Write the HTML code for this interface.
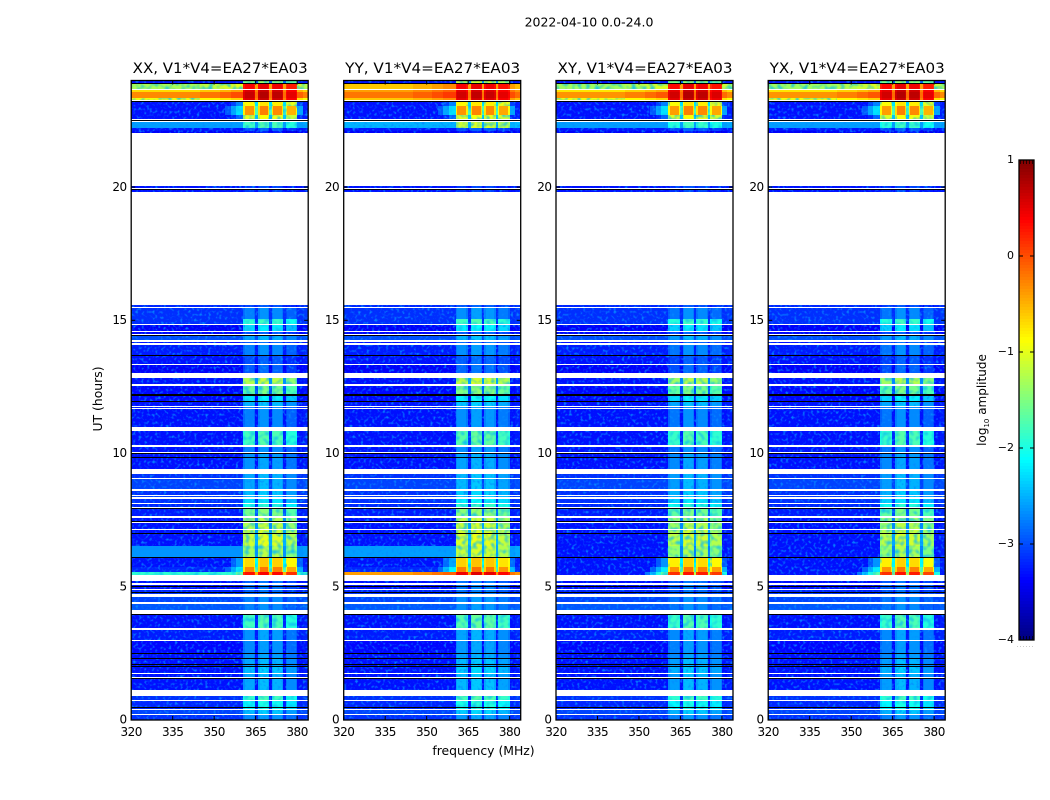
<!DOCTYPE html>
<html lang="en">
<head>
<meta charset="utf-8">
<title>2022-04-10 0.0-24.0</title>
<style>
html,body{margin:0;padding:0;background:#fff;width:1050px;height:800px;overflow:hidden}
svg{display:block}
text{font-family:"DejaVu Sans","Liberation Sans",sans-serif;fill:#000}
</style>
</head>
<body>
<svg id="chart" xmlns="http://www.w3.org/2000/svg" width="1050" height="800" viewBox="0 0 1050 800">
  <defs>
    <filter id="grain" filterUnits="userSpaceOnUse" x="120" y="70" width="840" height="660" color-interpolation-filters="sRGB">
      <feTurbulence type="fractalNoise" baseFrequency="0.36" numOctaves="1" seed="7" result="n"/>
      <feColorMatrix in="n" type="matrix" values="0 0 0 0 0.02  0 0 0 0 0.55  0 0 0 0 1  2.6 0 0 0 -1.15" result="speck"/>
      <feComponentTransfer in="speck" result="hard"><feFuncA type="discrete" tableValues="0 0.2 0.55 0.85"/></feComponentTransfer>
      <feComposite in="hard" in2="SourceAlpha" operator="in" result="clipped"/>
      <feMerge><feMergeNode in="SourceGraphic"/><feMergeNode in="clipped"/></feMerge>
    </filter>
    <filter id="mottle" filterUnits="userSpaceOnUse" x="120" y="70" width="840" height="660" color-interpolation-filters="sRGB">
      <feTurbulence type="fractalNoise" baseFrequency="0.22" numOctaves="1" seed="11" result="n"/>
      <feColorMatrix in="n" type="matrix" values="0 0 0 0 0.05  0 0 0 0 0.75  0 0 0 0 0.95  2.4 0 0 0 -1.05" result="speck"/>
      <feComposite in="speck" in2="SourceAlpha" operator="in" result="clipped"/>
      <feMerge><feMergeNode in="SourceGraphic"/><feMergeNode in="clipped"/></feMerge>
    </filter>
  </defs>
  <rect x="0" y="0" width="1050" height="800" fill="#fff"/>
  <text x="589" y="26.5" font-size="12.5" text-anchor="middle">2022-04-10 0.0-24.0</text>
  <text x="483.5" y="755" font-size="12.4" text-anchor="middle">frequency (MHz)</text>
  <text x="102" y="399" font-size="12.4" text-anchor="middle" transform="rotate(-90 102 399)">UT (hours)</text>
  <text x="986" y="400" font-size="12" text-anchor="middle" transform="rotate(-90 986 400)">log<tspan font-size="7" dy="3">10</tspan><tspan dy="-3"> amplitude</tspan></text>
  <g id="panels"></g>
  <g id="colorbar"></g>
</svg>
<script>
// ---- chart data (UT hours, log10 amplitude) ----
const polarizations = ["XX", "YY", "XY", "YX"];
const baselineLabel = "V1*V4=EA27*EA03";
const frequencyTicks = [320, 335, 350, 365, 380];
const hourTicks = [0, 5, 10, 15, 20];
const colorTicks = [1, 0, -1, -2, -3, -4];
const spwLow = [360.6, 365.9, 370.8, 375.8];
const spwHigh = [364.9, 370.0, 375.0, 380.0];

const scanStart = [0,0.225,0.41,0.75,1.14,1.61,1.78,2.04,2.10,2.33,2.53,3.02,3.40,3.47,4.13,4.43,4.73,4.80,4.91,5.16,5.44,5.55,5.74,6.11,6.53,7.01,7.16,7.46,7.65,7.99,8.16,8.36,8.44,8.66,9.09,9.43,9.88,10.07,10.31,10.99,11.70,11.79,11.96,12.24,12.60,13.01,13.35,13.69,14.14,14.25,14.47,14.60,14.87,15.05,15.51,19.82,19.95,22.03,22.10,22.20,22.55,22.70,23.05,23.25,23.36,23.55,23.68,23.85,23.92];
const scanEnd = [0.19,0.375,0.71,0.90,1.59,1.74,2.00,2.08,2.31,2.49,2.98,3.36,3.43,3.96,4.35,4.61,4.78,4.87,5.08,5.22,5.55,5.74,6.08,6.53,7.00,7.13,7.40,7.58,7.95,8.12,8.29,8.40,8.59,9.06,9.22,9.84,9.99,10.26,10.84,11.66,11.74,11.94,12.19,12.53,12.83,13.31,13.67,14.06,14.18,14.42,14.57,14.83,15.05,15.45,15.56,19.89,20.03,22.09,22.20,22.45,22.70,23.05,23.20,23.36,23.55,23.64,23.85,23.92,24];

const backgroundXX = [-3.15,-3.05,-3.2,-3.15,-3.3,-3.3,-3.3,-3.3,-3.3,-3.3,-3.35,-3.25,-3.3,-3.3,-2.95,-3.05,-3.15,-3.2,-3.3,-3.3,-1.9,-3.2,-3.3,-2.65,-3.3,-3.3,-3.3,-3.3,-3.25,-3.2,-3.15,-3.1,-3.15,-3.05,-3.15,-3.3,-3.3,-3.3,-3.3,-3.3,-3.3,-3.3,-3.35,-3.35,-3.3,-3.4,-3.3,-3.25,-3.3,-3.0,-3.4,-3.4,-3.15,-3.15,-3.2,-3.3,-3.3,-3.4,-3.3,-2.6,-3.3,-3.3,-3.3,-0.95,-0.3,-0.7,-1.3,-1.9,-3.3];
const backgroundYY = [-3.15,-3.05,-3.2,-3.15,-3.3,-3.3,-3.3,-3.3,-3.3,-3.3,-3.35,-3.25,-3.3,-3.3,-2.95,-3.05,-3.15,-3.2,-3.3,-3.3,-0.4,-3.2,-3.3,-2.6,-3.3,-3.3,-3.3,-3.3,-3.25,-3.2,-3.15,-3.1,-3.15,-3.05,-3.15,-3.3,-3.3,-3.3,-3.3,-3.3,-3.3,-3.3,-3.35,-3.35,-3.3,-3.4,-3.3,-3.25,-3.3,-3.0,-3.4,-3.4,-3.15,-3.15,-3.2,-3.3,-3.3,-3.4,-3.3,-2.5,-3.3,-3.3,-3.3,-0.6,-0.2,-0.4,-0.6,-1.2,-3.3];
const backgroundXY = [-3.15,-3.05,-3.2,-3.15,-3.3,-3.3,-3.3,-3.3,-3.3,-3.3,-3.35,-3.25,-3.3,-3.3,-2.95,-3.05,-3.15,-3.2,-3.3,-3.3,-3.3,-3.3,-3.3,-3.3,-3.3,-3.3,-3.3,-3.3,-3.25,-3.2,-3.15,-3.1,-3.15,-3.05,-3.15,-3.3,-3.3,-3.3,-3.3,-3.3,-3.3,-3.3,-3.35,-3.35,-3.3,-3.4,-3.3,-3.25,-3.3,-3.0,-3.4,-3.4,-3.15,-3.15,-3.2,-3.3,-3.3,-3.4,-3.3,-2.6,-3.3,-3.3,-3.3,-0.95,-0.35,-0.75,-1.35,-1.9,-3.3];
const backgroundYX = [-3.15,-3.05,-3.2,-3.15,-3.3,-3.3,-3.3,-3.3,-3.3,-3.3,-3.35,-3.25,-3.3,-3.3,-2.95,-3.05,-3.15,-3.2,-3.3,-3.3,-3.3,-3.3,-3.3,-3.3,-3.3,-3.3,-3.3,-3.3,-3.25,-3.2,-3.15,-3.1,-3.15,-3.05,-3.15,-3.3,-3.3,-3.3,-3.3,-3.3,-3.3,-3.3,-3.35,-3.35,-3.3,-3.4,-3.3,-3.25,-3.3,-3.0,-3.4,-3.4,-3.15,-3.15,-3.2,-3.3,-3.3,-3.4,-3.3,-2.6,-3.3,-3.3,-3.3,-0.95,-0.35,-0.75,-1.35,-1.9,-3.3];

const signalXX = [-2.7,-2.45,-2.1,-1.85,-2.55,-2.55,-2.45,-2.55,-2.55,-2.65,-2.7,-2.65,-2.65,-1.8,-2.75,-2.75,-2.9,-2.9,-2.85,-2.9,0.3,-0.3,-0.7,-1.3,-1.1,-1.15,-1.25,-1.3,-1.55,-2.0,-2.3,-2.45,-2.45,-2.55,-2.55,-2.65,-2.65,-2.75,-1.8,-2.75,-2.75,-2.5,-2.25,-1.6,-1.25,-2.95,-3.0,-2.75,-2.95,-2.55,-3.0,-2.3,-1.9,-2.75,-3.05,-3.1,-3.1,-3.3,-3.0,-1.8,-1.0,-0.35,-0.85,0.55,0.65,0.55,0.4,0.3,-1.5];
const signalYY = [-2.62,-2.37,-2.0,-1.75,-2.47,-2.47,-2.37,-2.47,-2.47,-2.57,-2.62,-2.57,-2.57,-1.7,-2.67,-2.67,-2.82,-2.82,-2.77,-2.82,0.45,-0.25,-0.65,-1.15,-1.05,-1.1,-1.15,-1.2,-1.45,-1.9,-2.2,-2.37,-2.37,-2.47,-2.47,-2.57,-2.57,-2.67,-1.7,-2.67,-2.67,-2.42,-2.15,-1.5,-1.15,-2.87,-2.92,-2.67,-2.87,-2.47,-2.92,-2.2,-1.8,-2.67,-2.97,-3.1,-3.1,-3.3,-3.0,-1.1,-1.0,-0.35,-0.85,0.5,0.6,0.5,0.4,0.3,-1.2];
const signalXY = [-2.7,-2.45,-2.1,-1.85,-2.55,-2.55,-2.45,-2.55,-2.55,-2.65,-2.7,-2.65,-2.65,-1.8,-2.75,-2.75,-2.9,-2.9,-2.85,-2.9,0.2,-0.3,-0.75,-1.35,-1.15,-1.2,-1.3,-1.35,-1.6,-2.0,-2.3,-2.45,-2.45,-2.55,-2.55,-2.65,-2.65,-2.75,-1.8,-2.75,-2.75,-2.5,-2.25,-1.6,-1.3,-2.95,-3.0,-2.75,-2.95,-2.55,-3.0,-2.3,-1.9,-2.75,-3.05,-3.1,-3.1,-3.3,-3.0,-1.9,-1.0,-0.35,-0.85,0.55,0.65,0.55,0.4,0.3,-1.5];
const signalYX = [-2.7,-2.45,-2.1,-1.85,-2.55,-2.55,-2.45,-2.55,-2.55,-2.65,-2.7,-2.65,-2.65,-1.8,-2.75,-2.75,-2.9,-2.9,-2.85,-2.9,0.2,-0.3,-0.75,-1.35,-1.15,-1.2,-1.3,-1.35,-1.6,-2.0,-2.3,-2.45,-2.45,-2.55,-2.55,-2.65,-2.65,-2.75,-1.8,-2.75,-2.75,-2.5,-2.25,-1.6,-1.3,-2.95,-3.0,-2.75,-2.95,-2.55,-3.0,-2.3,-1.9,-2.75,-3.05,-3.1,-3.1,-3.3,-3.0,-1.9,-1.0,-0.35,-0.85,0.55,0.65,0.55,0.4,0.3,-1.5];

const spwOffsetXX = [0.0, 0.1, 0.05, -0.15];
const spwOffsetYY = [0.0, 0.08, 0.05, -0.1];
const spwOffsetXY = [-0.05, 0.1, 0.05, -0.1];
const spwOffsetYX = [-0.05, 0.1, 0.05, -0.15];

const flaggedHours = [0.5,1.59,2.03,2.1,2.33,2.51,3.96,4.8,5.03,6.11,7.01,7.46,7.97,9.86,10.03,11.96,12.2,12.25,13.69,14.45,19.91,22.5,23.23,23.9];

// ---- layout and axis functions ----
const panelLeft = [131.2, 343.7, 556, 768.2];
const panelWidth = 177;
const plotTop = 80.5;
const plotBottom = 720;
const svgNS = "http://www.w3.org/2000/svg";
const panelsRoot = document.getElementById("panels");
const colorbarRoot = document.getElementById("colorbar");

function xScale(freq, left) { return left + (freq - 320) / 64 * panelWidth; }
function yScale(hour) { return plotBottom - hour / 24 * (plotBottom - plotTop); }
function colorScale(level) { return plotColorTop + (1 - level) / 5 * (plotColorBottom - plotColorTop); }
const plotColorTop = 160, plotColorBottom = 640, colorLeft = 1019, colorRight = 1034;

function jet(level) {
  const v = Math.max(0, Math.min(1, (level + 4) / 5));
  const ramp = function (c) { return Math.round(255 * Math.max(0, Math.min(1, 1.5 - Math.abs(4 * v - c)))); };
  return "rgb(" + ramp(3) + "," + ramp(2) + "," + ramp(1) + ")";
}
function setGeom(el, attrs) { for (const k in attrs) el.setAttribute(k, attrs[k]); return el; }
function makeEl(tag, parent) { const el = document.createElementNS(svgNS, tag); parent.appendChild(el); return el; }

function spwOffsetFor(pol) { return {XX: spwOffsetXX, YY: spwOffsetYY, XY: spwOffsetXY, YX: spwOffsetYX}[pol]; }
function backgroundFor(pol) { return {XX: backgroundXX, YY: backgroundYY, XY: backgroundXY, YX: backgroundYX}[pol]; }
function signalFor(pol) { return {XX: signalXX, YY: signalYY, XY: signalXY, YX: signalYX}[pol]; }

function addCell(groups, left, f0, f1, s, level) {
  const x0 = Math.round(xScale(f0, left));
  const x1 = Math.round(xScale(f1, left));
  const y0 = Math.round(yScale(scanEnd[s]));
  const y1 = Math.round(yScale(scanStart[s]));
  if (x1 <= x0 || y1 <= y0) return;
  const target = level < -2.3 ? groups.grainy : (level < -0.9 ? groups.mottled : groups.clean);
  const cell = makeEl("rect", target);
  
  
  setGeom(cell, {x: x0, y: y0, width: x1 - x0, height: y1 - y0, fill: jet(level), "shape-rendering": "crispEdges"});
}

function drawPanel(p) {
  const pol = polarizations[p];
  const left = panelLeft[p];
  const right = left + panelWidth;
  const bg = backgroundFor(pol);
  const sig = signalFor(pol);
  const off = spwOffsetFor(pol);

  const panel = makeEl("g", panelsRoot);
  
  

  const grainy = makeEl("g", panel);
  
  
  grainy.setAttribute("filter", "url(#grain)");

  const mottled = makeEl("g", panel);
  
  
  mottled.setAttribute("filter", "url(#mottle)");

  const clean = makeEl("g", panel);
  
  

  const groups = {grainy: grainy, mottled: mottled, clean: clean};

  for (let s = 0; s < scanStart.length; s++) {
    const b = bg[s], g = sig[s];
    const warm = b > -1.5 ? 0.2 : 0;
    const leak = g > -1.05;
    addCell(groups, left, 320, 345, s, b);
    addCell(groups, left, 345, 352, s, b + warm * 0.5);
    addCell(groups, left, 352, 354, s, leak ? Math.max(b + warm, g - 3.0) : b);
    addCell(groups, left, 354, 356, s, leak ? Math.max(b + warm, g - 2.6) : b);
    addCell(groups, left, 356, 358, s, leak ? Math.max(b + warm * 1.5, g - 2.2) : b);
    addCell(groups, left, 358, spwLow[0], s, leak ? Math.max(b + warm * 1.5, g - 1.9) : b);
    for (let i = 0; i < spwLow.length; i++) {
      const level = g + off[i];
      const edge = g > -0.6 && g < 0.2 ? level - 0.45 : level - 0.12;
      addCell(groups, left, spwLow[i], spwLow[i] + 0.5, s, edge);
      addCell(groups, left, spwLow[i] + 0.5, spwHigh[i] - 0.5, s, level);
      addCell(groups, left, spwHigh[i] - 0.5, spwHigh[i], s, edge);
      if (i < spwLow.length - 1) {
        const gap = g > 0.2 ? g - 0.8 : Math.max(b, g - 1.4);
        addCell(groups, left, spwHigh[i], spwLow[i + 1], s, gap);
      }
    }
    addCell(groups, left, spwHigh[3], 382, s, leak ? Math.max(b + warm, g - 2.2) : b);
    addCell(groups, left, 382, 384, s, b + 0.05);
  }

  for (let k = 0; k < flaggedHours.length; k++) {
    const line = makeEl("rect", panel);
    
    
    setGeom(line, {x: left, y: Math.round(yScale(flaggedHours[k])), width: panelWidth, height: 1, fill: "#000", "shape-rendering": "crispEdges"});
  }

  const frame = makeEl("rect", panel);
  
  
  setGeom(frame, {x: left, y: plotTop, width: panelWidth, height: plotBottom - plotTop, fill: "none", stroke: "#000", "stroke-width": 1.3});

  for (let t = 0; t < frequencyTicks.length; t++) {
    const fx = xScale(frequencyTicks[t], left);
    [[plotBottom, plotBottom - 4], [plotTop, plotTop + 4]].forEach(function (seg) {
      const tick = makeEl("line", panel);
      
      
      setGeom(tick, {x1: fx, x2: fx, y1: seg[0], y2: seg[1], stroke: "#000", "stroke-width": 1});
    });
    const label = makeEl("text", panel);
    
    
    setGeom(label, {x: fx, y: 736, "font-size": 12, "text-anchor": "middle", "letter-spacing": "-0.5"});
    label.textContent = frequencyTicks[t];
  }

  for (let t = 0; t < hourTicks.length; t++) {
    const hy = yScale(hourTicks[t]);
    [[left, left + 4], [right, right - 4]].forEach(function (seg) {
      const tick = makeEl("line", panel);
      
      
      setGeom(tick, {x1: seg[0], x2: seg[1], y1: hy, y2: hy, stroke: "#000", "stroke-width": 1});
    });
    const label = makeEl("text", panel);
    
    
    setGeom(label, {x: left - 4.5, y: hy + 3.7, "font-size": 12, "text-anchor": "end", "letter-spacing": "-0.5"});
    label.textContent = hourTicks[t];
  }

  const title = makeEl("text", panel);
  
  
  setGeom(title, {x: left + panelWidth / 2 + 0.5, y: 73, "font-size": 14.4, "text-anchor": "middle", textLength: 175, lengthAdjust: "spacingAndGlyphs"});
  title.textContent = pol + ", " + baselineLabel;
}

function drawColorbar() {
  for (let px = plotColorTop; px < plotColorBottom; px += 3) {
    const level = 1 - (px + 1.5 - plotColorTop) / (plotColorBottom - plotColorTop) * 5;
    const swatch = makeEl("rect", colorbarRoot);
    
    
    setGeom(swatch, {x: colorLeft, y: px, width: colorRight - colorLeft, height: 3.2, fill: jet(level), "shape-rendering": "crispEdges"});
  }
  const frame = makeEl("rect", colorbarRoot);
  
  
  setGeom(frame, {x: colorLeft, y: plotColorTop, width: colorRight - colorLeft, height: plotColorBottom - plotColorTop, fill: "none", stroke: "#000", "stroke-width": 1.3});

  for (let t = 0; t < colorTicks.length; t++) {
    const cy = colorScale(colorTicks[t]);
    [[colorLeft, colorLeft + 4], [colorRight, colorRight - 4]].forEach(function (seg) {
      const tick = makeEl("line", colorbarRoot);
      
      
      setGeom(tick, {x1: seg[0], x2: seg[1], y1: cy, y2: cy, stroke: "#000", "stroke-width": 1});
    });
    const label = makeEl("text", colorbarRoot);
    
    
    setGeom(label, {x: colorLeft - 5, y: cy + 3, "font-size": 11, "text-anchor": "end"});
    label.textContent = String(colorTicks[t]).replace("-", "\u2212");
  }
  for (let m = 0; m <= 4; m++) {
    const mx = colorLeft + 3 * m + 1.5;
    [[plotColorTop, plotColorTop + 4], [plotColorBottom, plotColorBottom - 4]].forEach(function (seg) {
      const tick = makeEl("line", colorbarRoot);
      
      
      setGeom(tick, {x1: mx, x2: mx, y1: seg[0], y2: seg[1], stroke: "#000", "stroke-width": 0.7});
    });
  }
  const dots = makeEl("text", colorbarRoot);
  
  
  setGeom(dots, {x: 1017, y: 647, "font-size": 4, "letter-spacing": "1.7", fill: "#666"});
  dots.textContent = "......";
}

for (let p = 0; p < polarizations.length; p++) drawPanel(p);
drawColorbar();
</script>
</body>
</html>
